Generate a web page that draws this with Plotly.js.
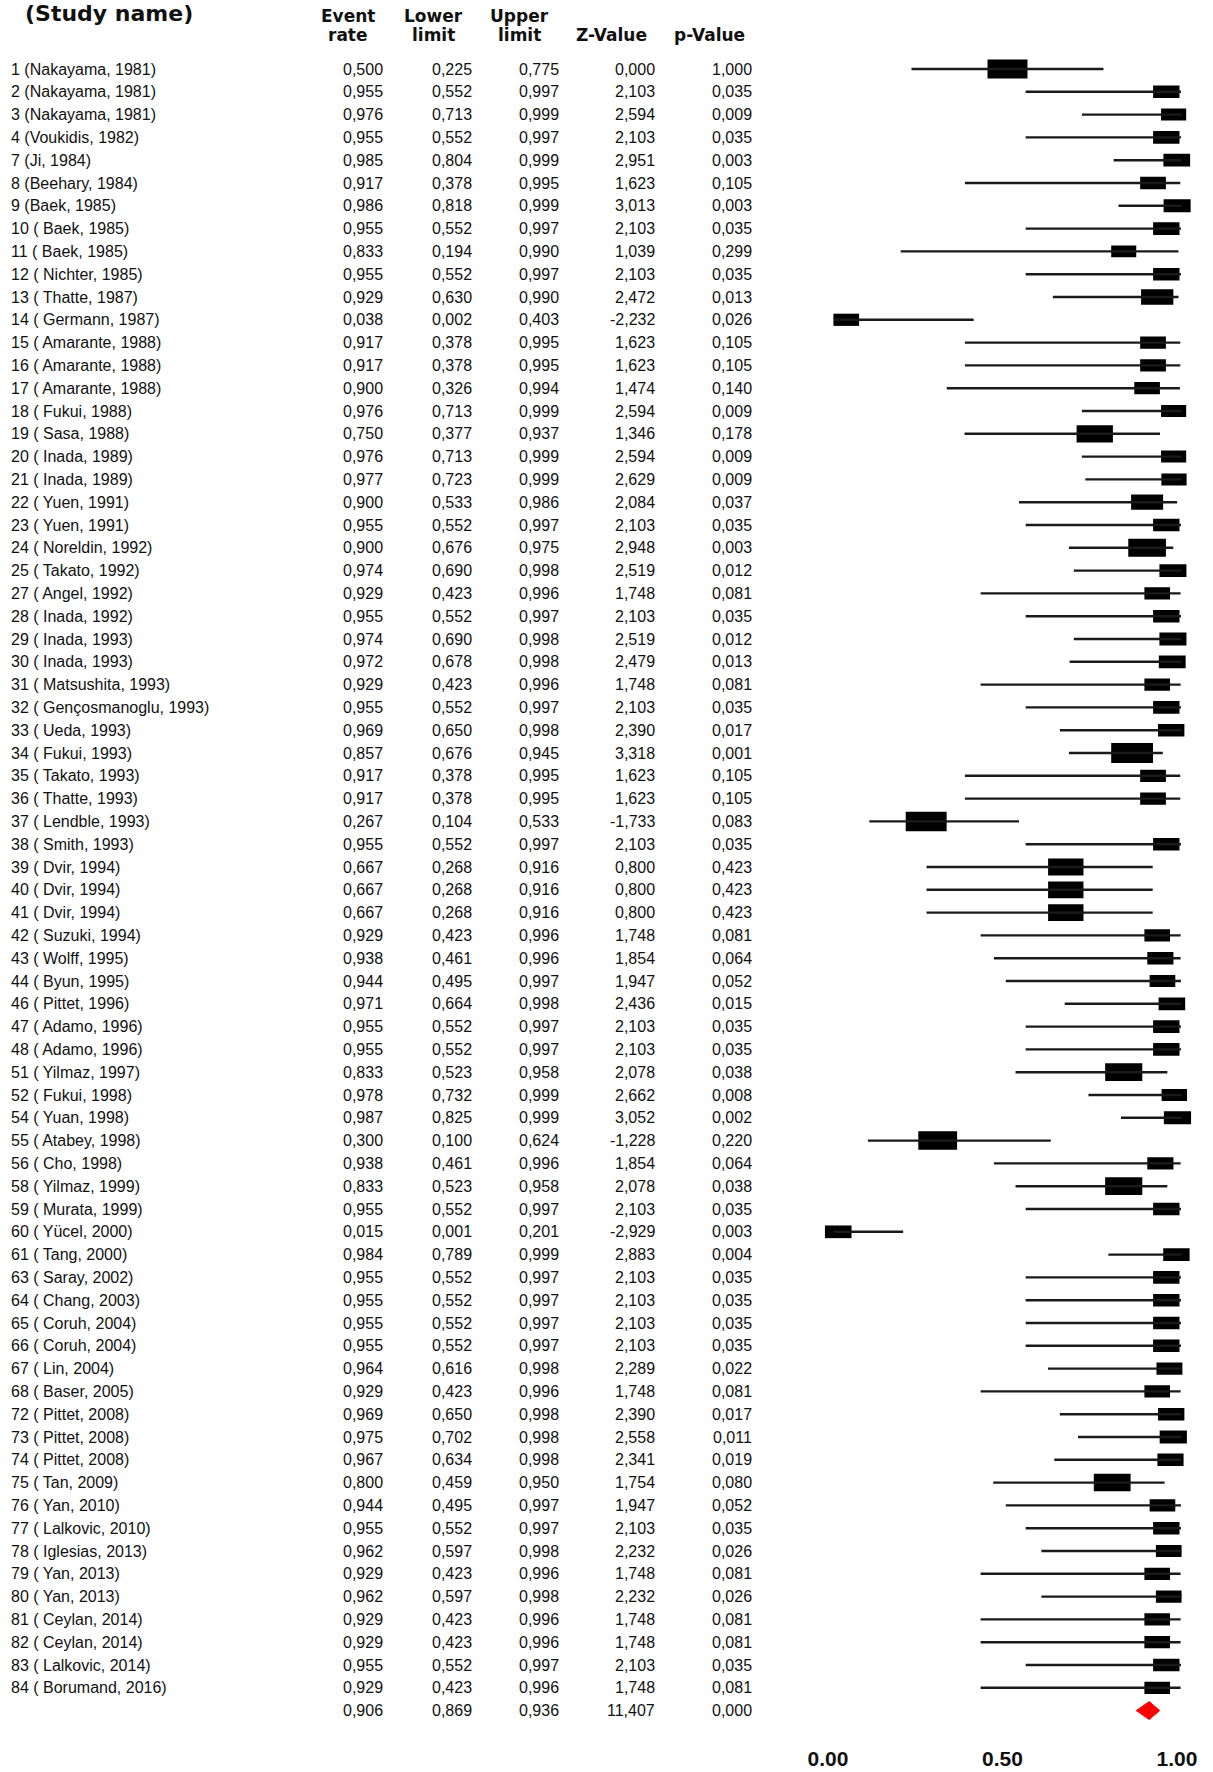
<!DOCTYPE html>
<html>
<head>
<meta charset="utf-8">
<script src="https://cdn.plot.ly/plotly-3.0.1.min.js"></script>
<style>html,body{margin:0;padding:0;background:#fff;}#chart{width:1213px;height:1772px;}</style>
</head>
<body>
<div id="chart"></div>
<script>
// ---------------- data ----------------
const studies = [
"1 (Nakayama, 1981)","2 (Nakayama, 1981)","3 (Nakayama, 1981)","4 (Voukidis, 1982)","7 (Ji, 1984)",
"8 (Beehary, 1984)","9 (Baek, 1985)","10 ( Baek, 1985)","11 ( Baek, 1985)","12 ( Nichter, 1985)",
"13 ( Thatte, 1987)","14 ( Germann, 1987)","15 ( Amarante, 1988)","16 ( Amarante, 1988)","17 ( Amarante, 1988)",
"18 ( Fukui, 1988)","19 ( Sasa, 1988)","20 ( Inada, 1989)","21 ( Inada, 1989)","22 ( Yuen, 1991)",
"23 ( Yuen, 1991)","24 ( Noreldin, 1992)","25 ( Takato, 1992)","27 ( Angel, 1992)","28 ( Inada, 1992)",
"29 ( Inada, 1993)","30 ( Inada, 1993)","31 ( Matsushita, 1993)","32 ( Gençosmanoglu, 1993)","33 ( Ueda, 1993)",
"34 ( Fukui, 1993)","35 ( Takato, 1993)","36 ( Thatte, 1993)","37 ( Lendble, 1993)","38 ( Smith, 1993)",
"39 ( Dvir, 1994)","40 ( Dvir, 1994)","41 ( Dvir, 1994)","42 ( Suzuki, 1994)","43 ( Wolff, 1995)",
"44 ( Byun, 1995)","46 ( Pittet, 1996)","47 ( Adamo, 1996)","48 ( Adamo, 1996)","51 ( Yilmaz, 1997)",
"52 ( Fukui, 1998)","54 ( Yuan, 1998)","55 ( Atabey, 1998)","56 ( Cho, 1998)","58 ( Yilmaz, 1999)",
"59 ( Murata, 1999)","60 ( Yücel, 2000)","61 ( Tang, 2000)","63 ( Saray, 2002)","64 ( Chang, 2003)",
"65 ( Coruh, 2004)","66 ( Coruh, 2004)","67 ( Lin, 2004)","68 ( Baser, 2005)","72 ( Pittet, 2008)",
"73 ( Pittet, 2008)","74 ( Pittet, 2008)","75 ( Tan, 2009)","76 ( Yan, 2010)","77 ( Lalkovic, 2010)",
"78 ( Iglesias, 2013)","79 ( Yan, 2013)","80 ( Yan, 2013)","81 ( Ceylan, 2014)","82 ( Ceylan, 2014)",
"83 ( Lalkovic, 2014)","84 ( Borumand, 2016)"
];
const eventRate = [
0.500,0.955,0.976,0.955,0.985,0.917,0.986,0.955,0.833,0.955,
0.929,0.038,0.917,0.917,0.900,0.976,0.750,0.976,0.977,0.900,
0.955,0.900,0.974,0.929,0.955,0.974,0.972,0.929,0.955,0.969,
0.857,0.917,0.917,0.267,0.955,0.667,0.667,0.667,0.929,0.938,
0.944,0.971,0.955,0.955,0.833,0.978,0.987,0.300,0.938,0.833,
0.955,0.015,0.984,0.955,0.955,0.955,0.955,0.964,0.929,0.969,
0.975,0.967,0.800,0.944,0.955,0.962,0.929,0.962,0.929,0.929,
0.955,0.929
];
const lowerLimit = [
0.225,0.552,0.713,0.552,0.804,0.378,0.818,0.552,0.194,0.552,
0.630,0.002,0.378,0.378,0.326,0.713,0.377,0.713,0.723,0.533,
0.552,0.676,0.690,0.423,0.552,0.690,0.678,0.423,0.552,0.650,
0.676,0.378,0.378,0.104,0.552,0.268,0.268,0.268,0.423,0.461,
0.495,0.664,0.552,0.552,0.523,0.732,0.825,0.100,0.461,0.523,
0.552,0.001,0.789,0.552,0.552,0.552,0.552,0.616,0.423,0.650,
0.702,0.634,0.459,0.495,0.552,0.597,0.423,0.597,0.423,0.423,
0.552,0.423
];
const upperLimit = [
0.775,0.997,0.999,0.997,0.999,0.995,0.999,0.997,0.990,0.997,
0.990,0.403,0.995,0.995,0.994,0.999,0.937,0.999,0.999,0.986,
0.997,0.975,0.998,0.996,0.997,0.998,0.998,0.996,0.997,0.998,
0.945,0.995,0.995,0.533,0.997,0.916,0.916,0.916,0.996,0.996,
0.997,0.998,0.997,0.997,0.958,0.999,0.999,0.624,0.996,0.958,
0.997,0.201,0.999,0.997,0.997,0.997,0.997,0.998,0.996,0.998,
0.998,0.998,0.950,0.997,0.997,0.998,0.996,0.998,0.996,0.996,
0.997,0.996
];
const zValue = [
0.000,2.103,2.594,2.103,2.951,1.623,3.013,2.103,1.039,2.103,
2.472,-2.232,1.623,1.623,1.474,2.594,1.346,2.594,2.629,2.084,
2.103,2.948,2.519,1.748,2.103,2.519,2.479,1.748,2.103,2.390,
3.318,1.623,1.623,-1.733,2.103,0.800,0.800,0.800,1.748,1.854,
1.947,2.436,2.103,2.103,2.078,2.662,3.052,-1.228,1.854,2.078,
2.103,-2.929,2.883,2.103,2.103,2.103,2.103,2.289,1.748,2.390,
2.558,2.341,1.754,1.947,2.103,2.232,1.748,2.232,1.748,1.748,
2.103,1.748
];
const pValue = [
1.000,0.035,0.009,0.035,0.003,0.105,0.003,0.035,0.299,0.035,
0.013,0.026,0.105,0.105,0.140,0.009,0.178,0.009,0.009,0.037,
0.035,0.003,0.012,0.081,0.035,0.012,0.013,0.081,0.035,0.017,
0.001,0.105,0.105,0.083,0.035,0.423,0.423,0.423,0.081,0.064,
0.052,0.015,0.035,0.035,0.038,0.008,0.002,0.220,0.064,0.038,
0.035,0.003,0.004,0.035,0.035,0.035,0.035,0.022,0.081,0.017,
0.011,0.019,0.080,0.052,0.035,0.026,0.081,0.026,0.081,0.081,
0.035,0.081
];
// pooled (summary) row
const summary = {rate:0.906, lower:0.869, upper:0.936, z:11.407, p:0.000};
const headerTop = ["Event","Lower","Upper","",""];
const headerBottom = ["rate","limit","limit","Z-Value","p-Value"];
const tickVals = [0, 0.5, 1];
const tickText = ["0.00","0.50","1.00"];

// ---------------- layout helpers ----------------
const W = 1213, H = 1772;
const rowPx = 22.8, row0Px = 69, plotH = 1740;
const yTop = -row0Px/rowPx, yBot = (plotH-row0Px)/rowPx;
const yOfPx = px => (px-row0Px)/rowPx;
const xr = [-0.3, 1.08];
const x0px = 833, pxPerUnit = 349;
const domL = (x0px + xr[0]*pxPerUnit)/W, domR = (x0px + xr[1]*pxPerUnit)/W;

const fmt = v => v.toFixed(3).replace('.', ',');
const n = studies.length;
const idx = studies.map((_, i) => i);
const sumY = n;

// box sizes from random-effects weights (logit scale)
const logit = p => Math.log(p/(1-p));
const tau2 = 0.87;
const boxW = [], boxH = [], boxBase = [];
for (let i = 0; i < n; i++) {
  const se = (logit(upperLimit[i]) - logit(lowerLimit[i]))/3.92;
  const w = 1/(se*se + tau2);
  const wpx = 45*Math.sqrt(w);
  const hpx = wpx/2.1;
  boxW.push(wpx/pxPerUnit);
  boxH.push(hpx/rowPx);
  boxBase.push(eventRate[i] - wpx/pxPerUnit/2);
}

// CI lines
const lx = [], ly = [];
for (let i = 0; i < n; i++) { lx.push(lowerLimit[i], upperLimit[i], null); ly.push(i, i, null); }

const hd = 9/rowPx;
const traces = [
  {type:'bar', orientation:'h', y: idx, x: boxW, base: boxBase, width: boxH,
   marker:{color:'#000', line:{width:0}}, hoverinfo:'skip', showlegend:false},
  {type:'scatter', mode:'lines', x: lx, y: ly, line:{color:'#1a1a1a', width:2.4},
   hoverinfo:'skip', showlegend:false},
  {type:'scatter', mode:'lines', x:[summary.lower, summary.rate, summary.upper, summary.rate, summary.lower],
   y:[sumY, sumY-hd, sumY, sumY+hd, sumY], fill:'toself', fillcolor:'#ff0000',
   line:{color:'#ff0000', width:1}, hoverinfo:'skip', showlegend:false}
];

// table annotations
const colRight = [385, 474, 561, 657, 754];
const colCenter = [348, 433, 519, 611, 709];
const bodyFont = {family:'Liberation Sans, Arial, sans-serif', size:16, color:'#111'};
const headFont = {family:'DejaVu Sans, sans-serif', size:17, color:'#111', weight:'bold'};
const ann = [];
ann.push({xref:'paper', yref:'y', x: 23/W, y: yOfPx(13), xanchor:'left', yanchor:'middle',
  text:'<b>(Study name)</b>', showarrow:false, font:{family:'DejaVu Sans, sans-serif', size:22, color:'#111'}});
for (let c = 0; c < 5; c++) {
  if (headerTop[c]) ann.push({xref:'paper', yref:'y', x: colCenter[c]/W, y: yOfPx(16), xanchor:'center', yanchor:'middle',
    text:'<b>'+headerTop[c]+'</b>', showarrow:false, font:headFont});
  ann.push({xref:'paper', yref:'y', x: colCenter[c]/W, y: yOfPx(35), xanchor:'center', yanchor:'middle',
    text:'<b>'+headerBottom[c]+'</b>', showarrow:false, font:headFont});
}
const cols = [eventRate, lowerLimit, upperLimit, zValue, pValue];
for (let i = 0; i < n; i++) {
  ann.push({xref:'paper', yref:'y', x: 9/W, y: i, xanchor:'left', yanchor:'middle',
    text: studies[i], showarrow:false, font: bodyFont});
  for (let c = 0; c < 5; c++) {
    ann.push({xref:'paper', yref:'y', x: colRight[c]/W, y: i, xanchor:'right', yanchor:'middle',
      text: fmt(cols[c][i]), showarrow:false, font: bodyFont});
  }
}
const sumVals = [summary.rate, summary.lower, summary.upper, summary.z, summary.p];
for (let c = 0; c < 5; c++) {
  ann.push({xref:'paper', yref:'y', x: colRight[c]/W, y: sumY, xanchor:'right', yanchor:'middle',
    text: fmt(sumVals[c]), showarrow:false, font: bodyFont});
}

const layout = {
  width: W, height: H,
  margin: {l:0, r:0, t:0, b: H-plotH, pad:0},
  paper_bgcolor:'#fff', plot_bgcolor:'#fff',
  showlegend:false, barmode:'overlay',
  xaxis: {domain:[domL, domR], range: xr, showgrid:false, zeroline:false, showline:false,
    ticks:'', tickvals: tickVals, ticktext: tickText.map(t => '<b>'+t+'</b>'),
    tickfont:{family:'Liberation Sans, Arial, sans-serif', size:21, color:'#111'},
    ticklabelstandoff: 4, ticklabelshift: -5, fixedrange:true},
  yaxis: {range:[yBot, yTop], visible:false, fixedrange:true},
  annotations: ann
};
Plotly.newPlot('chart', traces, layout, {staticPlot:true, displayModeBar:false});
</script>
</body>
</html>
